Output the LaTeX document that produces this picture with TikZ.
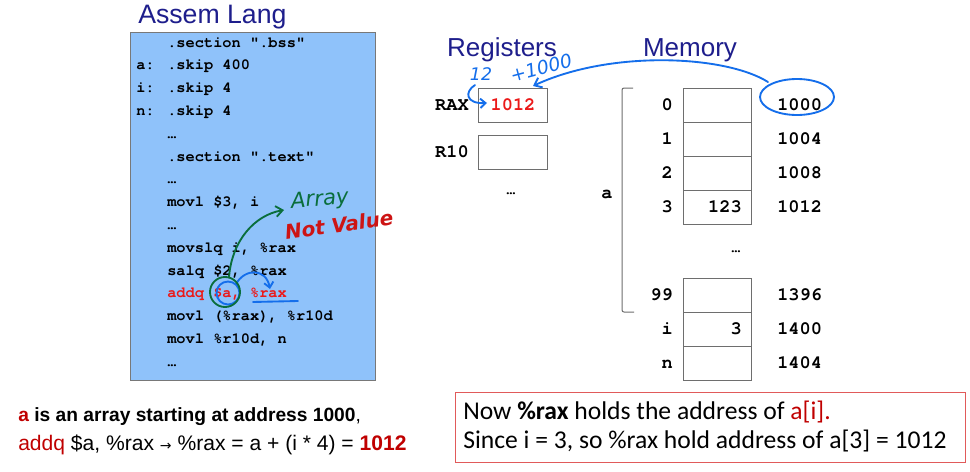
\documentclass[tikz,border=0pt]{standalone}
\usepackage{fontspec}
\setmainfont{Liberation Sans}
\setmonofont{texgyrecursor}[Extension=.otf, UprightFont=*-regular, BoldFont=*-bold, ItalicFont=*-italic, BoldItalicFont=*-bolditalic]
\newfontfamily\calfont{Carlito}
\newfontfamily\handfont{DejaVu Sans}
\usetikzlibrary{arrows.meta}
\definecolor{codebg}{RGB}{143,194,250}
\definecolor{boxgray}{RGB}{120,120,120}
\definecolor{cellgray}{RGB}{110,110,110}
\definecolor{navy}{RGB}{30,30,140}
\definecolor{codered}{RGB}{235,25,25}
\definecolor{darkred}{RGB}{192,0,0}
\definecolor{annblue}{RGB}{20,110,235}
\definecolor{anngreen}{RGB}{10,110,60}
\definecolor{annred}{RGB}{205,20,20}
\definecolor{frame}{RGB}{225,90,90}
\tikzset{
  code/.style={font=\ttfamily\bfseries\fontsize{11.5}{12}\selectfont, inner sep=0pt, anchor=base west},
  mem/.style={font=\ttfamily\bfseries\fontsize{14}{15}\selectfont, inner sep=0pt},
  cell/.style={draw=cellgray, line width=0.75pt, minimum width=51pt, minimum height=25.5pt, inner sep=0pt},
  regbox/.style={draw=cellgray, line width=0.75pt, minimum width=51.75pt, minimum height=25.5pt, inner sep=0pt},
  heading/.style={font=\fontsize{19.5}{22}\selectfont, text=navy, inner sep=0pt},
  hand/.style={font=\handfont\itshape, inner sep=0pt},
  annot/.style={line width=1.4pt, line cap=round},
}
\begin{document}
\begin{tikzpicture}[x=0.75pt,y=-0.75pt]
\useasboundingbox (0,0) rectangle (970,471);
\fill[white] (0,0) rectangle (970,471);

% ---- Assembly code panel
\node[heading, anchor=base west, font=\fontsize{20}{22}\selectfont] (ttl) at (138,23) {Assem Lang};
\node[draw=boxgray, fill=codebg, line width=0.75pt, minimum width=183.75pt, minimum height=261pt, anchor=north west, inner sep=0pt] (codebox) at (130,32) {};

\node[code] (l0) at (167,47) {.section ".bss"};
\node[code] (la) at (136,69.8) {a:};
\node[code] (l1) at (167,69.8) {.skip 400};
\node[code] (li) at (136,92.6) {i:};
\node[code] (l2) at (167,92.6) {.skip 4};
\node[code] (ln) at (136,115.4) {n:};
\node[code] (l3) at (167,115.4) {.skip 4};
\node[code] (l4) at (167,138.2) {…};
\node[code] (l5) at (167,161) {.section ".text"};
\node[code] (l6) at (167,183.8) {…};
\node[code] (l7) at (167,206.6) {movl \$3, i};
\node[code] (l8) at (167,229.4) {…};
\node[code] (l9) at (167,252.2) {movslq i, \%rax};
\node[code] (l10) at (167,275) {salq \$2, \%rax};
\node[code, text=codered] (l11) at (167,297.8) {addq \$a, \%rax};
\node[code] (l12) at (167,320.6) {movl (\%rax), \%r10d};
\node[code] (l13) at (167,343.4) {movl \%r10d, n};
\node[code] (l14) at (167,366.2) {…};

% ---- Registers
\node[heading, anchor=base] (reghd) at (502,56) {Registers};
\node[heading, anchor=base] (memhd) at (690,56) {Memory};
\node[regbox] (rax) at (512.5,105) {};
\node[mem, text=codered, anchor=base] (raxval) at (513,110.5) {1012};
\node[mem, anchor=base east] (raxlbl) at (469,110.5) {RAX};
\node[regbox] (r10) at (512.5,152) {};
\node[mem, anchor=base east] (r10lbl) at (469,157.5) {R10};
\node[code, anchor=base] (regdots) at (511,194) {…};

% ---- Memory
\node[cell] (c0) at (717,105) {};
\node[cell] (c1) at (717,139) {};
\node[cell] (c2) at (717,173) {};
\node[cell] (c3) at (717,207) {};
\node[cell] (c99) at (717,295) {};
\node[cell] (ci) at (717,329) {};
\node[cell] (cn) at (717,363) {};
\node[mem, anchor=base east] (v3) at (742,212.5) {123};
\node[mem, anchor=base east] (vi) at (742,334.5) {3};

\node[mem, anchor=base east] (k0) at (673,110.5) {0};
\node[mem, anchor=base east] (k1) at (673,144.5) {1};
\node[mem, anchor=base east] (k2) at (673,178.5) {2};
\node[mem, anchor=base east] (k3) at (673,212.5) {3};
\node[mem, anchor=base east] (k99) at (673,300.5) {99};
\node[mem, anchor=base east] (ki) at (673,334.5) {i};
\node[mem, anchor=base east] (kn) at (673,368.5) {n};

\node[mem, anchor=base west] (a0) at (777,110.5) {1000};
\node[mem, anchor=base west] (a1) at (777,144.5) {1004};
\node[mem, anchor=base west] (a2) at (777,178.5) {1008};
\node[mem, anchor=base west] (a3) at (777,212.5) {1012};
\node[mem, anchor=base west] (a99) at (777,300.5) {1396};
\node[mem, anchor=base west] (ai) at (777,334.5) {1400};
\node[mem, anchor=base west] (an) at (777,368.5) {1404};
\node[code, anchor=base] (memdots) at (736,252) {…};

\draw[cellgray, line width=0.75pt, rounded corners=1.5pt] (633,88) -- (622,88) -- (622,312) -- (634,312);
\node[mem, anchor=base] (alabel) at (607,198.5) {a};

% ---- Bottom texts
\node[anchor=base west, inner sep=0pt, font=\fontsize{14.4}{17}\selectfont] (note1) at (18,421)
  {\textcolor{darkred}{\textbf{a}} \textbf{is an array starting at address 1000},};
\node[anchor=base west, inner sep=0pt, font=\fontsize{15.8}{18}\selectfont] (note2) at (18,450)
  {\textcolor{darkred}{addq} \$a, \%rax {\handfont\fontsize{10.5}{12}\selectfont →} \%rax = a + (i * 4) = \textcolor{darkred}{\textbf{1012}}};

\node[draw=frame, line width=0.9pt, minimum width=382.5pt, minimum height=52.5pt, anchor=north west, inner sep=0pt] (redbox) at (455,392) {};
\node[anchor=base west, inner sep=0pt, font=\calfont\fontsize{19.2}{22}\selectfont] (exp1) at (463,419)
  {Now \textbf{\%rax} holds the address of \textcolor{darkred}{a[i].}};
\node[anchor=base west, inner sep=0pt, font=\calfont\fontsize{19.2}{22}\selectfont] (exp2) at (463,448)
  {Since i = 3, so \%rax hold address of a[3] = 1012};

% ---- Hand annotations (blue)
\draw[annot, annblue] (797,97) ellipse [x radius=37, y radius=18];
\coordinate (ellTop) at (768,82);
\coordinate (raxIn) at (533,86);
\draw[annot, annblue, -{Straight Barb[length=5pt,width=8pt]}] (ellTop) .. controls (725,55) and (610,50) .. (raxIn);
\node[hand, text=annblue, rotate=15, font=\handfont\itshape\fontsize{14}{15}\selectfont] (plus) at (541,68) {+1000};
\node[hand, text=annblue, font=\handfont\itshape\fontsize{13}{14}\selectfont] (twelve) at (481,74) {12};
\coordinate (curlA) at (475,85);
\coordinate (curlB) at (487,103);
\draw[annot, annblue, -{Straight Barb[length=4pt,width=7pt]}] (curlA) .. controls (464,92) and (466,104) .. (curlB);

\draw[annot, annblue] (228,293) circle [radius=11.5];
\coordinate (bA) at (236,284);
\coordinate (bB) at (270,289);
\draw[annot, annblue, -{Straight Barb[length=4pt,width=7pt]}] (bA) .. controls (245,268) and (266,268) .. (bB);
\coordinate (uA) at (253,302);
\coordinate (uB) at (298,301);
\draw[annot, annblue] (uA) -- (uB);

% ---- Hand annotations (green / red)
\draw[annot, anngreen] (225,292) circle [radius=15];
\coordinate (gA) at (229,277);
\coordinate (gB) at (284,210);
\draw[annot, anngreen, -{Straight Barb[length=5pt,width=8pt]}] (gA) .. controls (232,240) and (255,215) .. (gB);
\node[hand, text=anngreen, rotate=5, font=\handfont\itshape\fontsize{16}{17}\selectfont] (arr) at (320,200) {Array};
\node[hand, text=annred, rotate=8, font=\handfont\itshape\bfseries\fontsize{15}{16}\selectfont] (nv) at (339,225) {Not Value};
\end{tikzpicture}
\end{document}
